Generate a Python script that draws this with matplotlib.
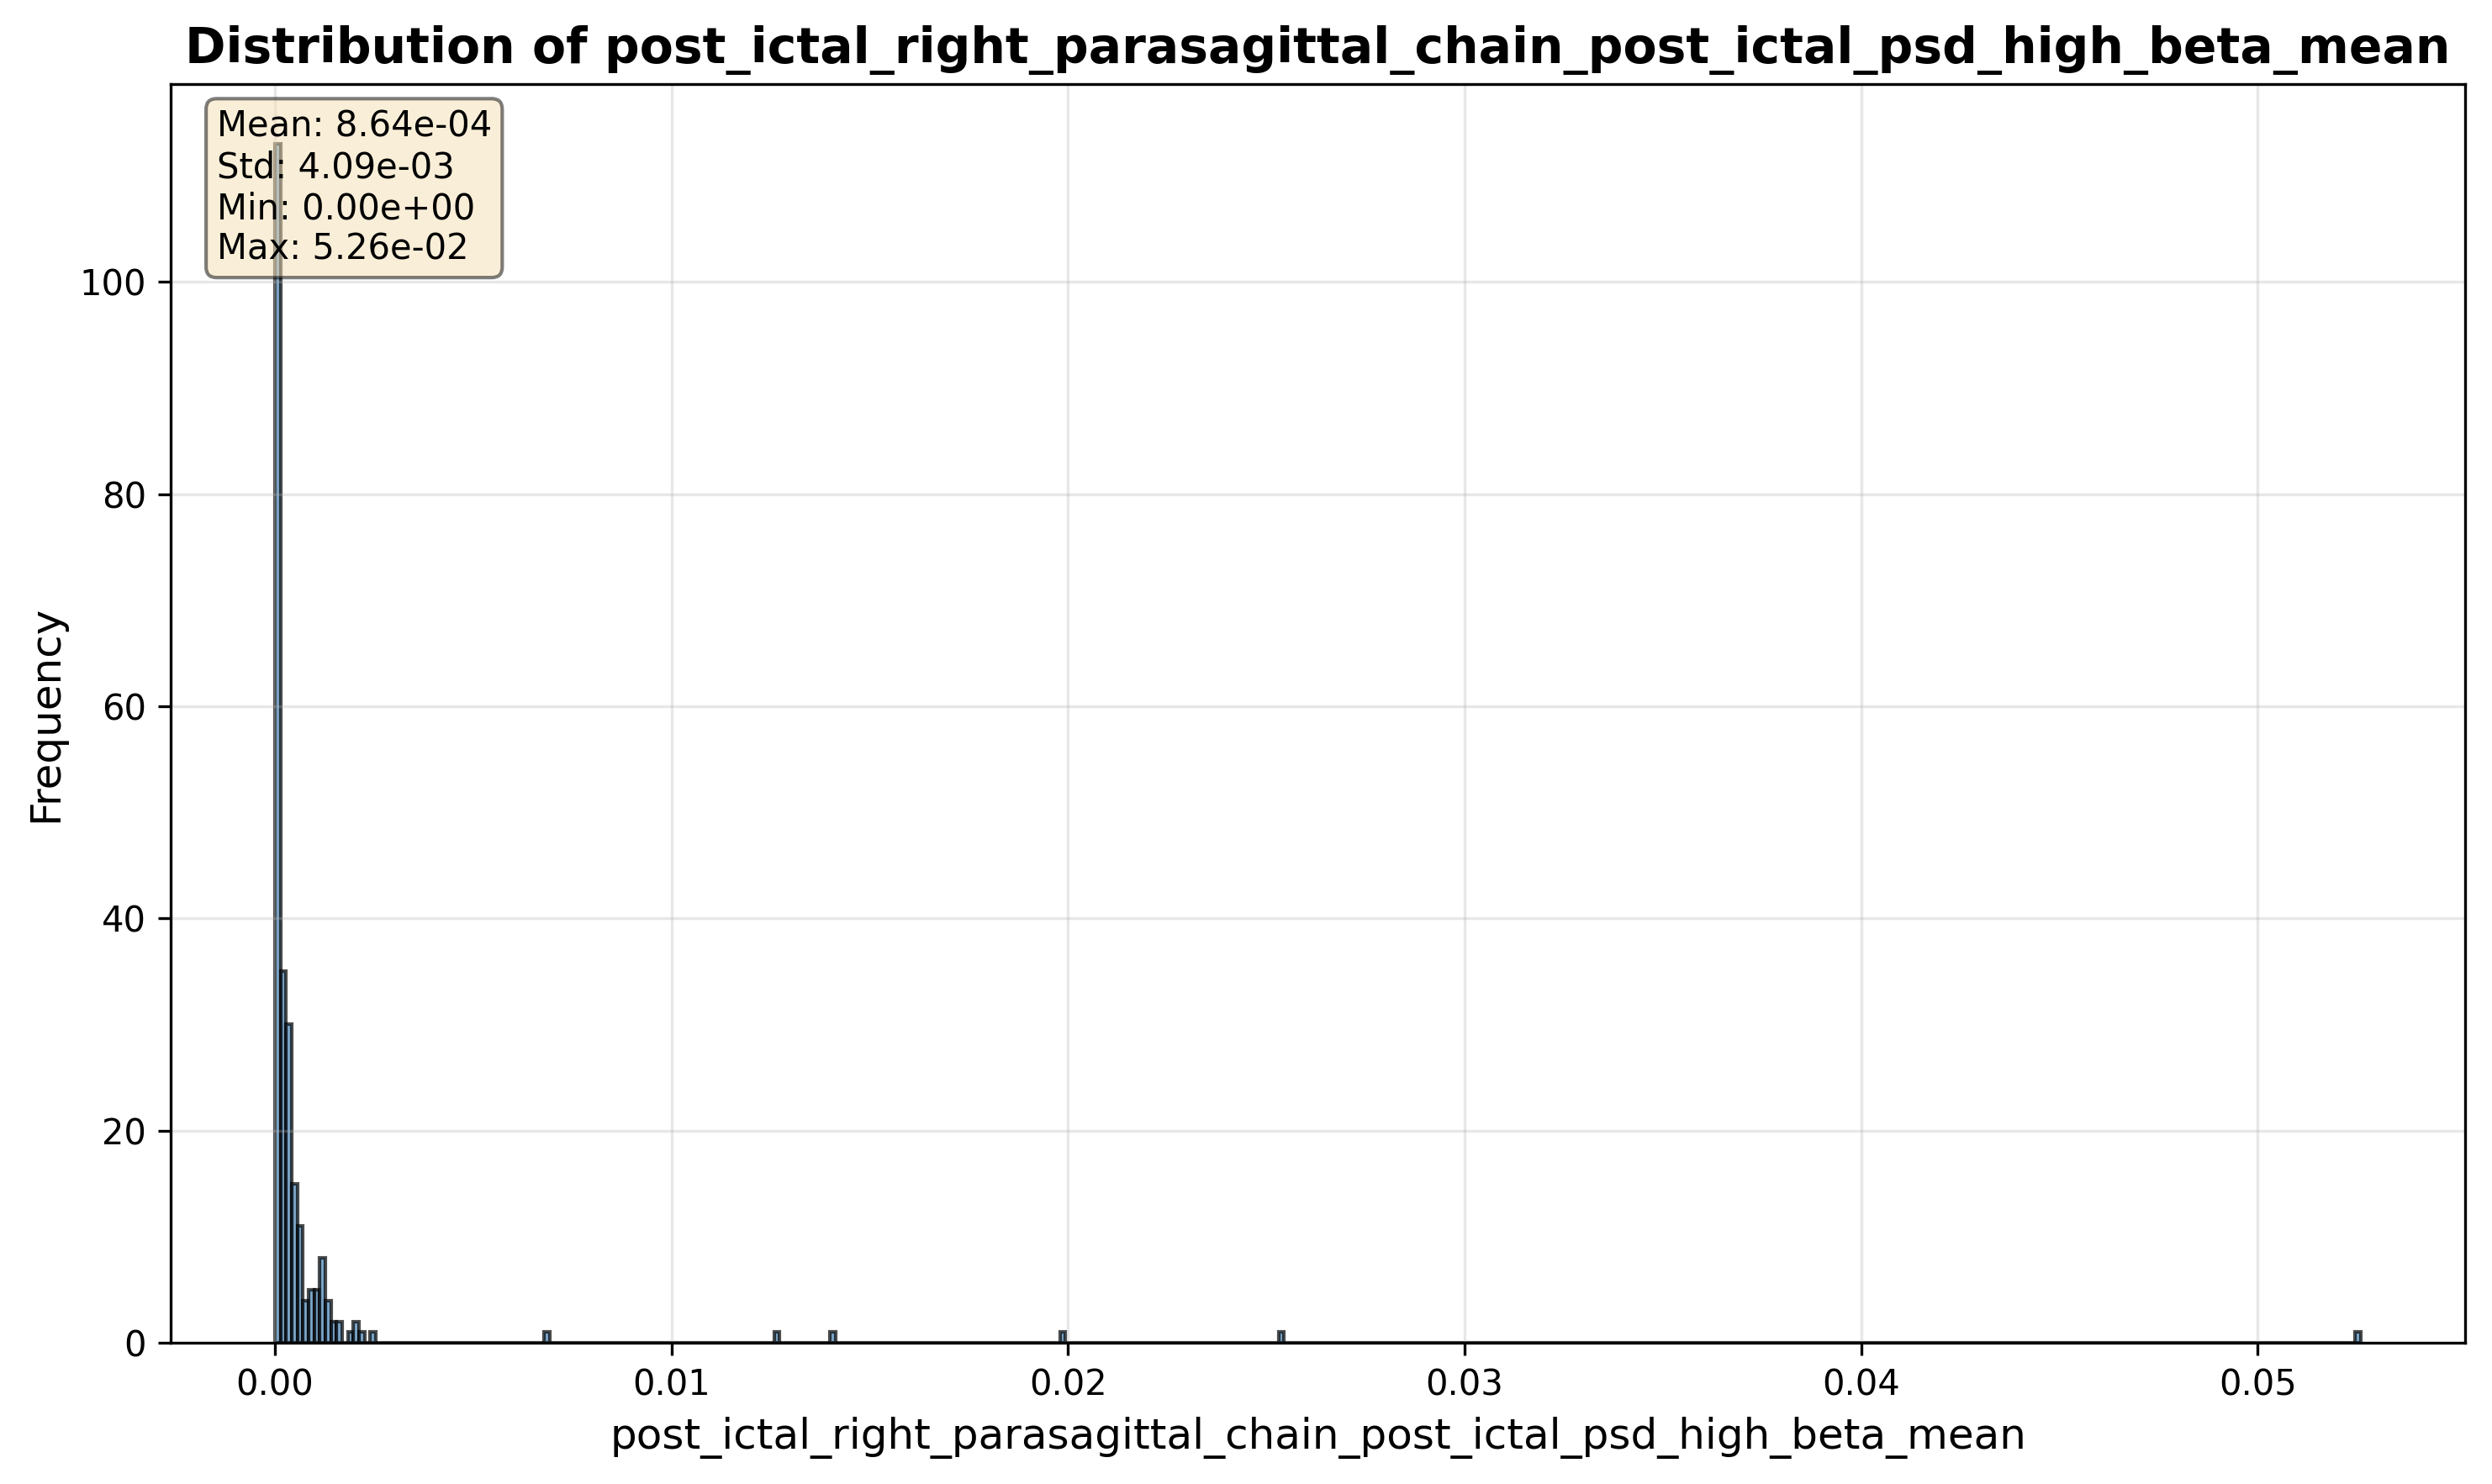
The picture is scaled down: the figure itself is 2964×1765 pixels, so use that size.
import matplotlib
matplotlib.use("Agg")
import matplotlib.pyplot as plt
import numpy as np

feature = "post_ictal_right_parasagittal_chain_post_ictal_psd_high_beta_mean"

# histogram
n_bins = 372
data_max = 0.0526
# counts of the first bins next to zero (one per bin, in order)
low_bin_counts = [113, 35, 30, 15, 11, 4, 5, 5, 8, 4, 2, 2, 0, 1, 2, 1, 0, 1]
# single isolated values further out
outlier_values = [0.0069, 0.0126, 0.0140, 0.0199, 0.0254, 0.0526]

stats_lines = ["Mean: 8.64e-04", "Std: 4.09e-03", "Min: 0.00e+00", "Max: 5.26e-02"]

edges = np.linspace(0, data_max, n_bins + 1)
centers = (edges[:-1] + edges[1:]) / 2
values = list(centers[:len(low_bin_counts)]) + outlier_values
weights = low_bin_counts + [1] * len(outlier_values)

fig = plt.figure(figsize=(2964 / 300, 1765 / 300), dpi=300)
ax = fig.add_axes([0.0685, 0.0952, 0.9207, 0.8482])

ax.hist(values, bins=edges, weights=weights, color="steelblue", alpha=0.7,
        edgecolor="black", linewidth=1)

ax.set_title(f"Distribution of {feature}", fontsize=14, fontweight="bold")
ax.set_xlabel(feature, fontsize=12)
ax.set_ylabel("Frequency", fontsize=12)
ax.grid(True, alpha=0.3)

ax.text(0.02, 0.98, "\n".join(stats_lines), transform=ax.transAxes,
        fontsize=10, verticalalignment="top",
        bbox=dict(boxstyle="round", facecolor="wheat", alpha=0.5))

fig.savefig("out.png", dpi=300)
